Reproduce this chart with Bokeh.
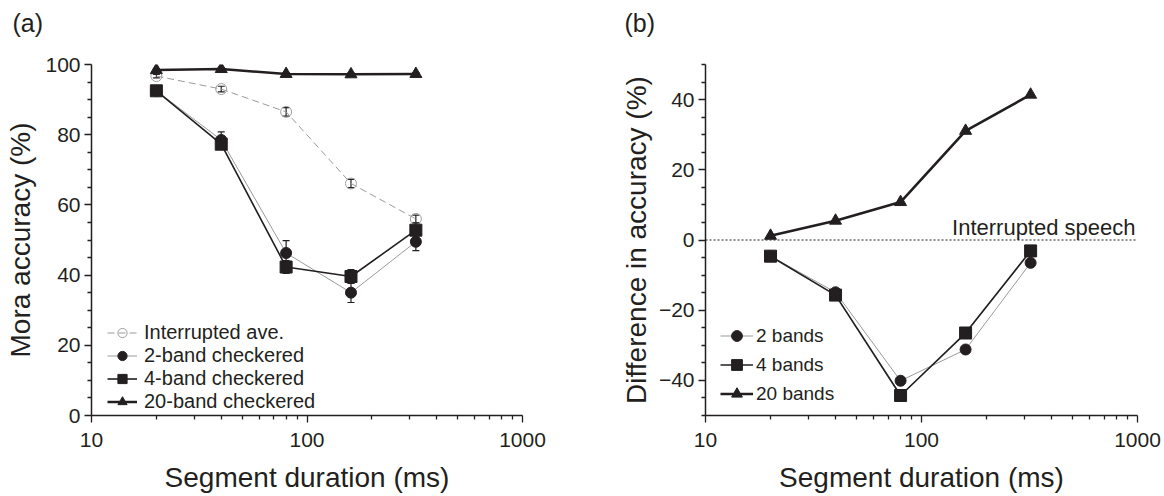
from bokeh.plotting import figure
from bokeh.models import (Range1d, FixedTicker, Legend, LegendItem, Whisker, TeeHead,
                          ColumnDataSource, Span, Label, Title, NumeralTickFormatter)
from bokeh.layouts import row
from bokeh.embed import file_html
from bokeh.resources import INLINE

# ---------------- data ----------------
durations = [20, 40, 80, 160, 320]

interrupted = [96.7, 93.0, 86.5, 66.1, 56.0]
interrupted_err = [0.5, 0.8, 1.2, 1.2, 1.1]
band2 = [92.5, 78.5, 46.3, 35.0, 49.5]
band2_err = [0.8, 2.3, 3.5, 2.8, 2.5]
band4 = [92.5, 77.3, 42.3, 39.6, 52.8]
band4_err = [0.8, 1.2, 1.8, 2.0, 2.0]
band20 = [98.4, 98.7, 97.3, 97.2, 97.3]
band20_err = [0.4, 0.4, 0.4, 0.4, 0.4]

diff2 = [-4.6, -14.9, -40.1, -31.2, -6.5]
diff4 = [-4.6, -15.7, -44.3, -26.5, -3.1]
diff20 = [1.2, 5.5, 10.8, 31.1, 41.4]

x_ticks = [10, 100, 1000]
x_minor = [20, 30, 40, 50, 60, 70, 80, 90, 200, 300, 400, 500, 600, 700, 800, 900]
ya_ticks = [0, 20, 40, 60, 80, 100]
ya_minor = [5, 10, 15, 25, 30, 35, 45, 50, 55, 65, 70, 75, 85, 90, 95]
yb_ticks = [-40, -20, 0, 20, 40]
yb_minor = [-50, -45, -35, -30, -25, -15, -10, -5, 5, 10, 15, 25, 30, 35, 45, 50]

FONT = "Liberation Sans"
INK = "#231f20"
GRAY = "#9a9a9a"


def style(p, tag, tag_offset):
    p.background_fill_color = "white"
    p.border_fill_color = "white"
    p.outline_line_color = None
    p.xgrid.grid_line_color = None
    p.ygrid.grid_line_color = None
    for ax in (p.xaxis[0], p.yaxis[0]):
        ax.axis_line_color = INK
        ax.axis_line_width = 1.5
        ax.major_tick_line_color = INK
        ax.minor_tick_line_color = INK
        ax.major_tick_line_width = 1.3
        ax.minor_tick_line_width = 1.3
        ax.major_tick_out = 7
        ax.major_tick_in = 0
        ax.minor_tick_out = 4
        ax.minor_tick_in = 0
        ax.major_label_text_font = FONT
        ax.major_label_text_font_size = "21px"
        ax.major_label_text_color = INK
        ax.axis_label_text_font = FONT
        ax.axis_label_text_font_size = "28px"
        ax.axis_label_text_font_style = "normal"
        ax.axis_label_text_color = INK
    xa = p.xaxis[0]
    xa.ticker = FixedTicker(ticks=x_ticks, minor_ticks=x_minor)
    xa.formatter = NumeralTickFormatter(format="0")
    xa.major_label_text_line_height = 1.0
    xa.axis_label_text_line_height = 1.0
    xa.major_label_standoff = 10
    xa.axis_label_standoff = 12
    p.yaxis[0].major_label_standoff = 4
    # spacer panel between the frame and the panel tag
    p.add_layout(Title(text=" ", text_font_size="2px", standoff=24), "above")
    p.title.text = tag
    p.title.text_font = FONT
    p.title.text_font_size = "25px"
    p.title.text_font_style = "normal"
    p.title.text_color = INK
    p.title.align = "left"
    p.title.standoff = 0
    p.title.offset = tag_offset


def whisk(p, base, vals, errs):
    src = ColumnDataSource(dict(x=base,
                                upper=[v + e for v, e in zip(vals, errs)],
                                lower=[v - e for v, e in zip(vals, errs)]))
    w = Whisker(source=src, base="x", upper="upper", lower="lower", dimension="height",
                line_color=INK, line_width=1.2, level="underlay",
                upper_head=TeeHead(size=7, line_color=INK, line_width=1.2),
                lower_head=TeeHead(size=7, line_color=INK, line_width=1.2))
    p.add_layout(w)


# ---------------- panel (a) ----------------
pa = figure(width=600, height=496, x_axis_type="log",
            x_range=Range1d(10, 1000), y_range=Range1d(0, 100),
            output_backend="svg", toolbar_location=None, title="(a)",
            min_border_left=91, min_border_right=78, min_border_top=64, min_border_bottom=81,
            x_axis_label="Segment duration (ms)", y_axis_label="Mora accuracy (%)")
style(pa, "(a)", -79)
pa.yaxis[0].ticker = FixedTicker(ticks=ya_ticks, minor_ticks=ya_minor)
pa.yaxis[0].axis_label_standoff = 6

whisk(pa, durations, interrupted, interrupted_err)
whisk(pa, durations, band2, band2_err)
whisk(pa, durations, band4, band4_err)
whisk(pa, durations, band20, band20_err)

l_int = pa.line(durations, interrupted, line_color=GRAY, line_width=1, line_dash="7 4")
s_int = pa.scatter(durations, interrupted, marker="circle", size=11,
                   line_color="#a0a0a0", line_width=1, fill_color=None)
l_b2 = pa.line(durations, band2, line_color=GRAY, line_width=1)
s_b2 = pa.scatter(durations, band2, marker="circle", size=11, line_color=INK, fill_color=INK)
l_b4 = pa.line(durations, band4, line_color=INK, line_width=1.6)
s_b4 = pa.scatter(durations, band4, marker="square", size=12, line_color=INK, fill_color=INK)
l_b20 = pa.line(durations, band20, line_color=INK, line_width=2.5)
s_b20 = pa.scatter(durations, band20, marker="triangle", size=12, line_color=INK, fill_color=INK)

leg_a = Legend(items=[
    LegendItem(label="Interrupted ave.", renderers=[l_int, s_int]),
    LegendItem(label="2-band checkered", renderers=[l_b2, s_b2]),
    LegendItem(label="4-band checkered", renderers=[l_b4, s_b4]),
    LegendItem(label="20-band checkered", renderers=[l_b20, s_b20]),
], location=(16, 2), padding=0, margin=0, spacing=0,
    glyph_width=30, glyph_height=23, label_height=23, label_standoff=7,
    label_text_font=FONT, label_text_font_size="20px", label_text_color=INK,
    border_line_color=None, background_fill_alpha=0)
pa.add_layout(leg_a)

# ---------------- panel (b) ----------------
pb = figure(width=564, height=496, x_axis_type="log",
            x_range=Range1d(10, 1000), y_range=Range1d(-50, 50),
            output_backend="svg", toolbar_location=None, title="(b)",
            min_border_left=105, min_border_right=27, min_border_top=64, min_border_bottom=81,
            x_axis_label="Segment duration (ms)", y_axis_label="Difference in accuracy (%)")
style(pb, "(b)", -81)
pb.yaxis[0].ticker = FixedTicker(ticks=yb_ticks, minor_ticks=yb_minor)
pb.yaxis[0].axis_label_standoff = 4

pb.add_layout(Span(location=0, dimension="width", line_color=INK, line_width=1,
                   line_dash="2 2", level="underlay"))
pb.add_layout(Label(x=1000, y=0, text="Interrupted speech", text_align="right",
                    text_baseline="alphabetic", x_offset=-2, y_offset=13,
                    text_font=FONT, text_font_size="22px", text_color=INK))

m_l2 = pb.line(durations, diff2, line_color=GRAY, line_width=1)
m_s2 = pb.scatter(durations, diff2, marker="circle", size=11, line_color=INK, fill_color=INK)
m_l4 = pb.line(durations, diff4, line_color=INK, line_width=1.7)
m_s4 = pb.scatter(durations, diff4, marker="square", size=12, line_color=INK, fill_color=INK)
m_l20 = pb.line(durations, diff20, line_color=INK, line_width=2.6)
m_s20 = pb.scatter(durations, diff20, marker="triangle", size=12, line_color=INK, fill_color=INK)

leg_b = Legend(items=[
    LegendItem(label="2 bands", renderers=[m_l2, m_s2]),
    LegendItem(label="4 bands", renderers=[m_l4, m_s4]),
    LegendItem(label="20 bands", renderers=[m_l20, m_s20]),
], location=(15, 8), padding=0, margin=0, spacing=2,
    glyph_width=33, glyph_height=27, label_height=27, label_standoff=3,
    label_text_font=FONT, label_text_font_size="19px", label_text_color=INK,
    border_line_color=None, background_fill_alpha=0)
pb.add_layout(leg_b)

layout = row(pa, pb)
open("out.html", "w").write(file_html(layout, INLINE))
